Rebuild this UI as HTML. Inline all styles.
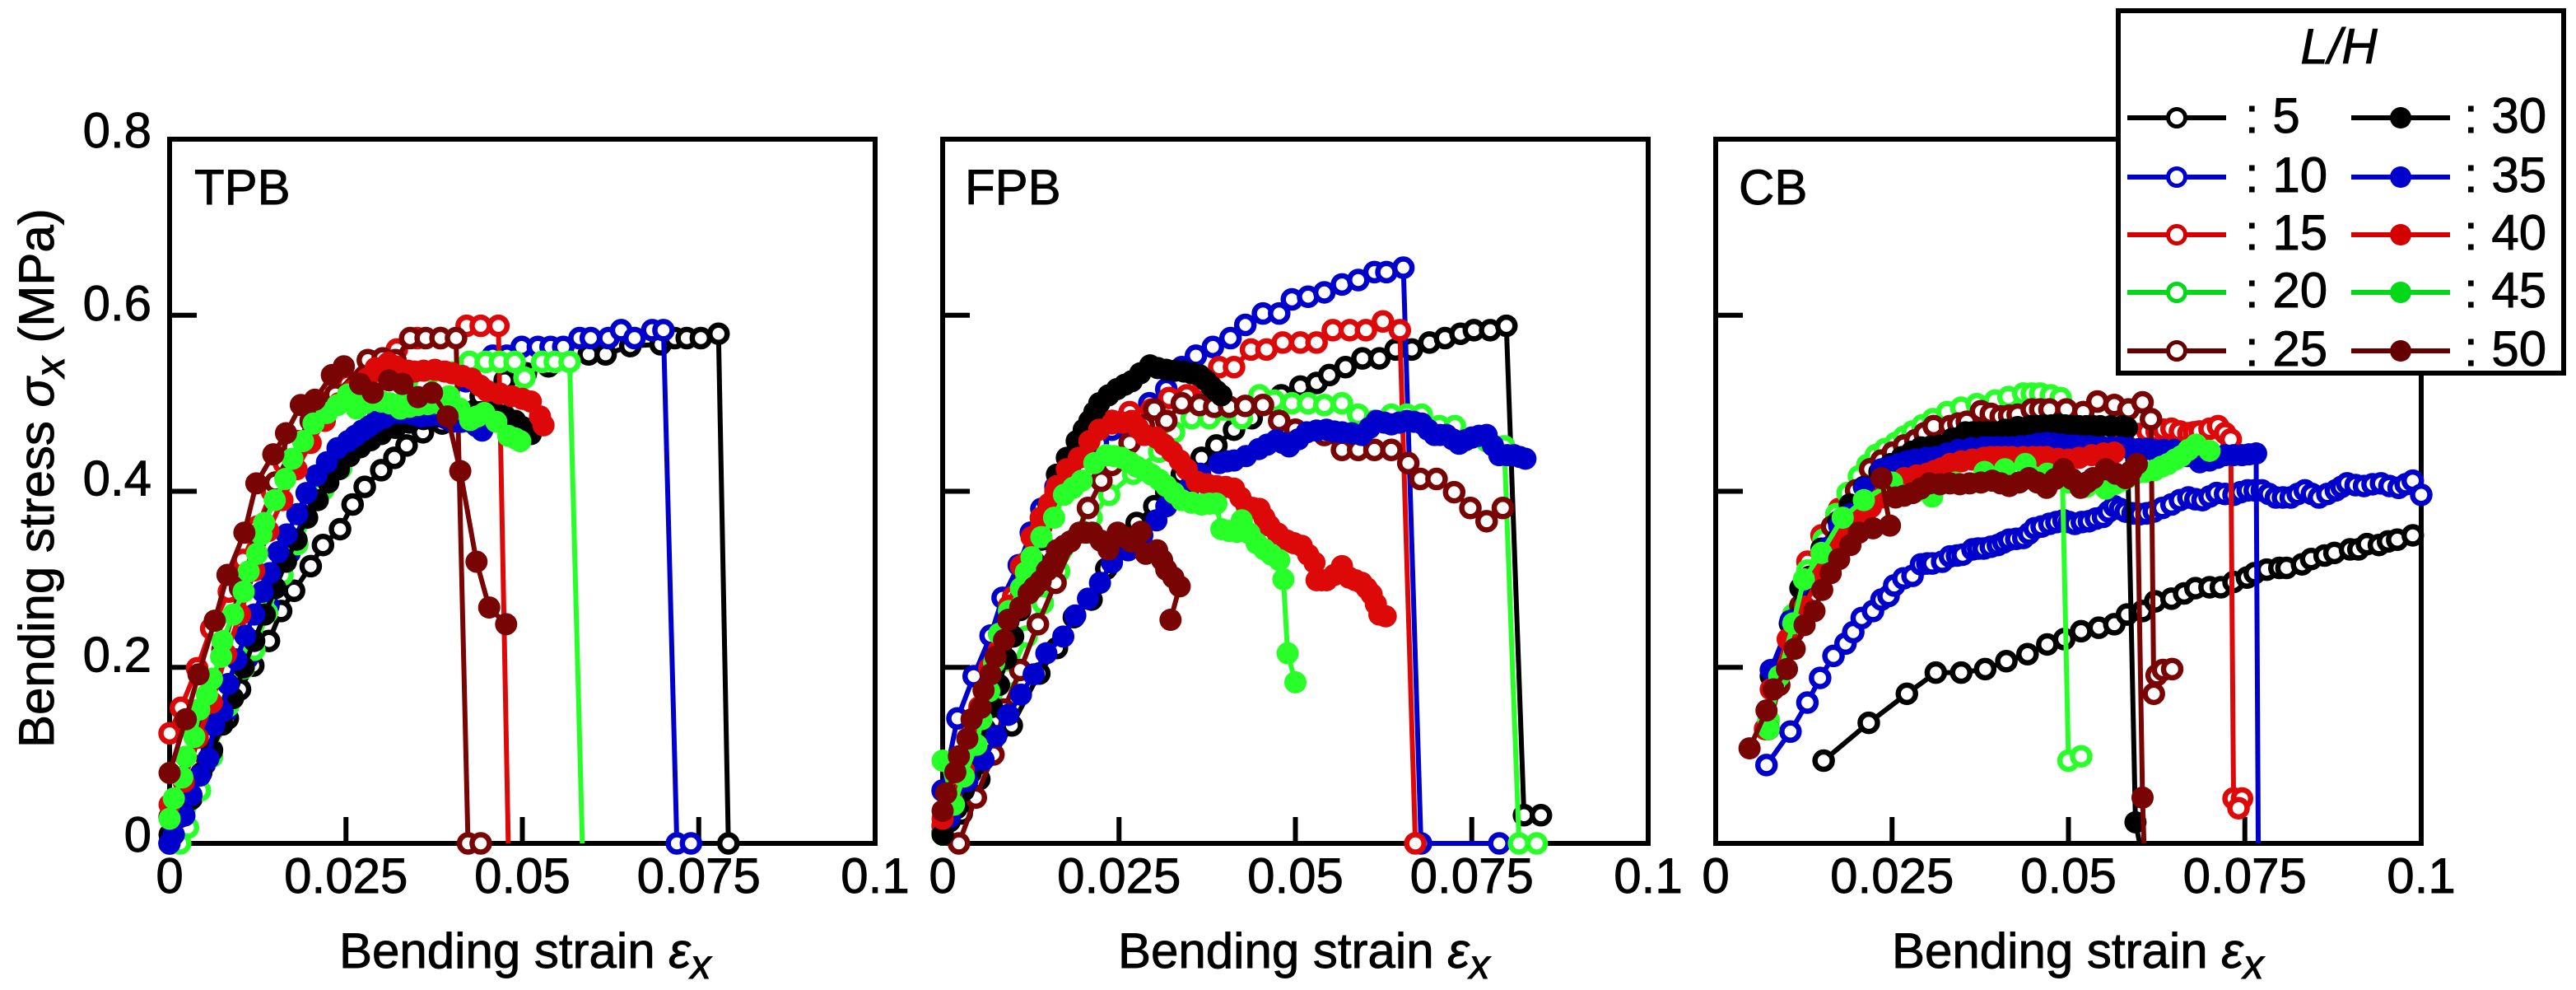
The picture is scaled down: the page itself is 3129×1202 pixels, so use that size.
<!DOCTYPE html>
<html lang="en">
<head>
<meta charset="utf-8">
<title>Bending stress versus bending strain</title>
<style>
html,body{margin:0;padding:0;background:#fff;width:3129px;height:1202px;overflow:hidden}
svg{display:block}
text{font-family:"Liberation Sans",sans-serif;font-size:60px;fill:#000;stroke:#000;stroke-width:.9px}
</style>
</head>
<body>
<svg id="chart" xmlns="http://www.w3.org/2000/svg" width="3129" height="1202" viewBox="0 0 3129 1202"></svg>
<script>
// ---- shared axis data ----
const xTickValues = [0.025, 0.05, 0.075];
const yTickValues = [0.2, 0.4, 0.6];
const xLabelValues = [0, 0.025, 0.05, 0.075, 0.1];
const xLabelTexts = ['0', '0.025', '0.05', '0.075', '0.1'];
const yLabelValues = [0.8, 0.6, 0.4, 0.2, 0];
const yLabelTexts = ['0.8', '0.6', '0.4', '0.2', '0'];
const ratios = [5, 10, 15, 20, 25, 30, 35, 40, 45, 50];

// ---- TPB ----
const tpb5 = [[0,0],[.0031,.051],[.006,.106],[.00825,.142],[.00998,.175],[.01186,.202],[.01408,.23],[.01581,.264],[.01764,.287],[.02,.315],[.02174,.339],[.02416,.357],[.02594,.385],[.02766,.405],[.03,.424],[.03186,.438],[.03359,.452],[.03591,.467],[.03863,.477],[.0411,.4925],[.0441,.508],[.0475,.526],[.0505,.534],[.0537,.542],[.0594,.5555],[.0618,.5555],[.0653,.565],[.0696,.567],[.0716,.574],[.0733,.574],[.0753,.574],[.0778,.579],[.0792,0]];
const tpb10 = [[0,0],[.002,.03],[.005,.09],[.008,.15],[.011,.21],[.014,.27],[.017,.33],[.02,.39],[.024,.44],[.028,.47],[.033,.49],[.038,.5],[.042,.525],[.0458,.554],[.0478,.554],[.0499,.564],[.0522,.564],[.054,.564],[.0558,.564],[.0581,.574],[.0597,.574],[.0622,.574],[.064,.583],[.0659,.574],[.0684,.583],[.07,.583],[.0719,0],[.0739,0]];
const tpb15 = [[0,.125],[.0016,.154],[.0039,.199],[.0059,.244],[.0084,.286],[.0104,.322],[.0125,.36],[.0145,.4],[.0162,.432],[.0182,.457],[.0203,.477],[.0228,.503],[.0252,.522],[.0285,.548],[.0322,.561],[.0351,.574],[.0384,.574],[.0421,.588],[.0441,.588],[.0466,.588]];
const tpb15Drop = [[.048,0]];
const tpb20 = [[.0015,.0],[.0026,.018],[.0043,.06],[.006,.0985],[.0083,.156],[.0105,.199],[.012,.22],[.0138,.262],[.016,.305],[.0181,.34],[.0218,.402],[.0243,.426],[.0278,.469],[.0297,.49],[.033,.5],[.036,.52],[.04,.535],[.0425,.547],[.0448,.547],[.0468,.547],[.0489,.547],[.0503,.529],[.0528,.547],[.0546,.547],[.0567,.547]];
const tpb20Drop = [[.0585,0]];
const tpb25 = [[.0,.03],[.003,.09],[.005,.15],[.0075,.22],[.01,.29],[.0125,.35],[.015,.41],[.0175,.45],[.02,.48],[.0235,.51],[.0281,.549],[.0302,.551],[.032,.549],[.0341,.574],[.0363,.574],[.0384,.574],[.0406,.574],[.0423,0],[.0441,0]];
const tpb30 = [[0,.01],[.0015,.03],[.003,.05],[.0045,.08],[.006,.105],[.0075,.135],[.009,.165],[.0105,.2],[.012,.23],[.0135,.26],[.015,.29],[.0165,.32],[.018,.345],[.0195,.37],[.021,.39],[.0225,.41],[.024,.425],[.0255,.44],[.027,.45],[.0285,.458],[.03,.465],[.032,.472],[.034,.478],[.036,.482],[.038,.485],[.04,.488],[.042,.49],[.044,.49],[.046,.49],[.0475,.486],[.049,.48],[.05,.473],[.0512,.465]];
const tpb35 = [[0,0],[.0006,.01],[.0021,.0315],[.0031,.055],[.0043,.077],[.0055,.0965],[.0063,.134],[.0075,.15],[.0083,.181],[.0095,.209],[.0107,.236],[.012,.26],[.0132,.286],[.0142,.307],[.0154,.331],[.0166,.351],[.0181,.374],[.0194,.398],[.0208,.418],[.0223,.433],[.0238,.449],[.0253,.457],[.0263,.463],[.0273,.469],[.0283,.474],[.0292,.479],[.0305,.484],[.0317,.489],[.0327,.489],[.0337,.489],[.0347,.487],[.0357,.485],[.0369,.486],[.0381,.487],[.0391,.483],[.0401,.479],[.0414,.479],[.0426,.479],[.0435,.474],[.0443,.469]];
const tpb40 = [[0,.044],[.002,.07],[.004,.12],[.006,.16],[.008,.215],[.01,.26],[.012,.31],[.014,.355],[.016,.39],[.018,.425],[.02,.455],[.022,.48],[.024,.5],[.026,.515],[.028,.528],[.0292,.54],[.031,.546],[.032,.542],[.0328,.538],[.0338,.537],[.0347,.536],[.036,.537],[.0376,.538],[.039,.536],[.0401,.534],[.0415,.531],[.0428,.528],[.044,.52],[.045,.514],[.0468,.511],[.0485,.508],[.05,.505],[.0512,.502],[.0525,.485],[.053,.475]];
const tpb45 = [[0,.028],[.0006,.051],[.0018,.075],[.0023,.0985],[.0035,.121],[.0042,.152],[.0053,.169],[.006,.187],[.0073,.212],[.0075,.23],[.009,.26],[.0105,.286],[.0112,.309],[.0124,.329],[.013,.351],[.0134,.364],[.0149,.39],[.0164,.414],[.0174,.437],[.0189,.457],[.0204,.477],[.0223,.489],[.0238,.498],[.0253,.51],[.0265,.494],[.0277,.5],[.0288,.504],[.03,.502],[.0312,.5],[.0327,.494],[.034,.496],[.0352,.498],[.0366,.499],[.0381,.5],[.0396,.508],[.0411,.494],[.0426,.481],[.0436,.485],[.0446,.489],[.0463,.479],[.048,.463],[.049,.46],[.0497,.457]];
const tpb50 = [[0,.08],[.0023,.141],[.0041,.192],[.0064,.253],[.0082,.305],[.0106,.353],[.0123,.409],[.0147,.442],[.0165,.466],[.0186,.498],[.0206,.504],[.023,.532],[.0247,.542],[.027,.522],[.0288,.512],[.0311,.526],[.033,.522],[.0352,.507],[.0372,.512],[.0394,.485],[.0412,.423],[.0435,.32],[.0453,.268],[.0477,.249]];

// ---- FPB ----
const fpb5 = [[0,.012],[.0027,.034],[.0052,.073],[.0098,.134],[.0137,.193],[.0162,.222],[.0186,.257],[.0211,.277],[.0232,.312],[.0261,.335],[.0275,.364],[.03,.383],[.0317,.399],[.0339,.419],[.0367,.438],[.0388,.452],[.0413,.47],[.0438,.483],[.048,.509],[.0507,.519],[.053,.523],[.0548,.532],[.0571,.541],[.0595,.551],[.0619,.551],[.0642,.561],[.0665,.561],[.069,.569],[.0712,.574],[.0734,.579],[.0753,.583],[.0776,.583],[.0799,.588],[.0824,.032],[.0848,.032]];
const fpb10 = [[.0,.06],[.0021,.142],[.0044,.19],[.0068,.236],[.0085,.279],[.0108,.316],[.0125,.353],[.014,.38],[.016,.405],[.018,.425],[.02,.44],[.022,.455],[.024,.47],[.0261,.483],[.0293,.5],[.0317,.516],[.0339,.541],[.0359,.554],[.0383,.564],[.0408,.574],[.0429,.589],[.0454,.602],[.0477,.602],[.0495,.618],[.0518,.621],[.0541,.626],[.0566,.635],[.0589,.64],[.0612,.649],[.0629,.649],[.0653,.654],[.0678,0],[.0789,0]];
const fpb15 = [[0,.02],[.002,.06],[.004,.11],[.006,.16],[.008,.22],[.01,.28],[.012,.32],[.014,.36],[.016,.4],[.018,.43],[.02,.45],[.022,.47],[.024,.48],[.0265,.49],[.0296,.493],[.0321,.506],[.0346,.509],[.037,.52],[.0392,.541],[.0413,.541],[.0437,.561],[.0459,.561],[.0482,.569],[.0507,.569],[.053,.569],[.0553,.583],[.0577,.583],[.06,.583],[.0624,.593],[.0648,.583],[.067,0]];
const fpb20 = [[.0,.01],[.003,.06],[.006,.13],[.0094,.189],[.0119,.235],[.0142,.273],[.0165,.309],[.0211,.37],[.0236,.396],[.027,.42],[.0307,.445],[.0328,.467],[.0353,.483],[.0378,.483],[.0424,.483],[.0449,.509],[.047,.503],[.0495,.5],[.0518,.5],[.0541,.498],[.0566,.5],[.0589,.487],[.0612,.48],[.0636,.487],[.0658,.487],[.0679,.487],[.0704,.474],[.0726,.474],[.075,.461],[.0771,.457],[.0796,.451],[.0817,0],[.0842,0]];
const fpb25 = [[.0023,0],[.0047,.052],[.0072,.101],[.0087,.152],[.011,.197],[.0135,.249],[.016,.296],[.0206,.381],[.0225,.412],[.024,.43],[.0265,.455],[.0285,.475],[.03,.493],[.0317,.48],[.0339,.5],[.0364,.498],[.0385,.496],[.0406,.496],[.0429,.497],[.0454,.498],[.0477,.48],[.05,.47],[.0541,.464],[.0566,.447],[.0589,.447],[.0612,.447],[.0636,.447],[.066,.432],[.0677,.414],[.07,.414],[.0725,.399],[.0748,.381],[.0771,.366],[.0794,.381]];
const fpb30 = [[0,.01],[.001,.025],[.002,.04],[.003,.06],[.004,.08],[.005,.105],[.006,.13],[.007,.155],[.008,.18],[.009,.21],[.01,.235],[.011,.265],[.012,.29],[.013,.32],[.014,.345],[.015,.385],[.0162,.419],[.0176,.438],[.019,.457],[.02,.47],[.0208,.48],[.0215,.49],[.0222,.5],[.0235,.509],[.0247,.516],[.0258,.521],[.0268,.525],[.028,.534],[.0294,.543],[.0305,.54],[.0317,.538],[.033,.537],[.0342,.536],[.0353,.534],[.0364,.532],[.0373,.526],[.0381,.519],[.0388,.514],[.0395,.509]];
const fpb35 = [[.001,.03],[.0035,.071],[.0058,.095],[.0076,.122],[.0093,.146],[.0111,.169],[.0129,.192],[.0147,.216],[.0171,.235],[.0188,.259],[.0206,.278],[.0223,.296],[.024,.319],[.0263,.333],[.0283,.35],[.0303,.367],[.0317,.383],[.0335,.395],[.035,.405],[.0365,.42],[.0392,.432],[.0403,.434],[.0413,.435],[.043,.44],[.0448,.448],[.046,.453],[.0473,.458],[.0482,.455],[.0491,.451],[.0504,.459],[.0516,.467],[.053,.469],[.0544,.47],[.0555,.468],[.0566,.467],[.058,.466],[.0594,.464],[.0605,.472],[.0615,.48],[.0626,.478],[.0636,.476],[.0647,.478],[.0658,.48],[.0668,.479],[.0679,.477],[.0688,.47],[.0697,.464],[.0705,.464],[.0714,.464],[.0723,.459],[.0732,.454],[.0741,.458],[.075,.461],[.076,.463],[.0771,.464],[.078,.452],[.0789,.441],[.08,.441],[.081,.441],[.0818,.439],[.0826,.437]];
const fpb40 = [[0,.028],[.0013,.05],[.003,.083],[.0041,.115],[.0052,.155],[.0066,.199],[.008,.238],[.0094,.27],[.0111,.315],[.0126,.348],[.0139,.37],[.0151,.386],[.0162,.406],[.0176,.425],[.0193,.438],[.0208,.457],[.0222,.47],[.024,.477],[.0255,.478],[.0268,.48],[.0277,.472],[.0286,.464],[.0303,.461],[.0314,.453],[.0325,.445],[.0336,.435],[.0346,.425],[.036,.411],[.0375,.408],[.0388,.406],[.0401,.405],[.0413,.403],[.0422,.393],[.0431,.383],[.044,.381],[.0449,.38],[.0456,.37],[.0463,.361],[.0475,.352],[.0488,.344],[.0498,.341],[.0509,.338],[.0518,.328],[.0527,.319],[.053,.299],[.0537,.299],[.0544,.299],[.0555,.305],[.0566,.315],[.0576,.302],[.0585,.299],[.0594,.296],[.0601,.29],[.0608,.283],[.0614,.272],[.0619,.26],[.0628,.258]];
const fpb45 = [[0,.094],[.0016,.044],[.003,.076],[.0048,.112],[.0055,.141],[.0066,.173],[.0073,.205],[.008,.238],[.0094,.264],[.0111,.29],[.0118,.308],[.0126,.325],[.014,.348],[.0158,.37],[.0172,.396],[.0185,.404],[.0197,.412],[.0215,.432],[.0232,.441],[.0243,.44],[.0254,.438],[.0265,.433],[.0275,.428],[.0286,.424],[.0296,.419],[.0307,.413],[.0317,.406],[.0328,.398],[.0339,.39],[.0353,.387],[.0367,.385],[.0378,.386],[.0388,.386],[.0395,.357],[.0406,.355],[.0417,.354],[.0424,.367],[.0435,.352],[.0445,.341],[.0456,.334],[.0466,.328],[.0477,.322],[.0483,.3],[.0489,.216],[.05,.183]];
const fpb50 = [[0,.037],[.0005,.057],[.0018,.081],[.0023,.099],[.0035,.119],[.0041,.141],[.0054,.154],[.0058,.174],[.0068,.192],[.0075,.212],[.0087,.231],[.0093,.254],[.011,.268],[.0122,.284],[.013,.291],[.0139,.298],[.0148,.31],[.0158,.321],[.0162,.333],[.0172,.338],[.0181,.343],[.0194,.353],[.0203,.353],[.0212,.353],[.0224,.344],[.0235,.334],[.0248,.353],[.0258,.348],[.0267,.343],[.0281,.354],[.0288,.329],[.0304,.333],[.0311,.322],[.0317,.311],[.0327,.302],[.0336,.292],[.0323,.254]];

// ---- CB ----
const cb5 = [[.0153,.094],[.0217,.137],[.0271,.17],[.0312,.194],[.0348,.194],[.0382,.198],[.0412,.207],[.0442,.215],[.047,.226],[.0494,.232],[.0518,.241],[.0543,.245],[.0565,.249],[.0583,.26],[.0605,.264],[.0623,.275],[.0646,.278],[.0664,.284],[.068,.29],[.07,.291],[.0716,.291],[.0734,.297],[.0753,.302],[.0764,.307],[.0781,.311],[.0799,.313],[.0809,.313],[.0831,.317],[.0844,.323],[.0863,.327],[.0877,.33],[.0899,.334],[.0911,.334],[.0923,.34],[.094,.339],[.0953,.343],[.0966,.345],[.0988,.35]];
const cb10 = [[.0072,.089],[.0106,.127],[.013,.16],[.0148,.188],[.0167,.213],[.0184,.227],[.0195,.24],[.0207,.256],[.0223,.264],[.0235,.277],[.0245,.281],[.0253,.293],[.0266,.301],[.0279,.304],[.0291,.317],[.03,.318],[.0307,.318],[.0321,.32],[.0332,.326],[.0342,.327],[.035,.328],[.0364,.334],[.0372,.335],[.038,.335],[.039,.337],[.04,.339],[.0408,.342],[.0416,.345],[.0426,.346],[.0436,.347],[.0444,.352],[.0452,.358],[.0462,.36],[.0473,.363],[.0483,.365],[.0493,.367],[.0501,.365],[.0509,.363],[.0519,.365],[.0529,.366],[.0539,.369],[.0549,.371],[.0557,.377],[.0565,.383],[.0573,.38],[.0581,.377],[.0591,.375],[.0601,.374],[.0611,.375],[.0621,.377],[.0633,.381],[.0646,.385],[.0658,.39],[.067,.393],[.068,.391],[.069,.39],[.07,.394],[.071,.398],[.0722,.397],[.0734,.396],[.0744,.399],[.0754,.401],[.0764,.401],[.0774,.401],[.0784,.397],[.0794,.393],[.0804,.393],[.0815,.393],[.0825,.397],[.0835,.401],[.0845,.397],[.0855,.393],[.0867,.397],[.0879,.401],[.0887,.405],[.0895,.409],[.0907,.407],[.0919,.406],[.0931,.408],[.0943,.409],[.0955,.406],[.0968,.404],[.0978,.408],[.0988,.412],[.1,.396]];
const cb15 = [[.007,.13],[.0085,.19],[.011,.25],[.013,.32],[.015,.35],[.0175,.38],[.02,.4],[.023,.42],[.026,.44],[.03,.45],[.035,.46],[.04,.46],[.045,.465],[.05,.46],[.055,.465],[.0575,.47],[.06,.465],[.0612,.468],[.0625,.468],[.0635,.47],[.0646,.471],[.0658,.468],[.067,.466],[.0678,.467],[.0686,.468],[.07,.471],[.0712,.474],[.0722,.466],[.073,.459],[.0734,.051],[.0746,.051],[.0741,.04]];
const cb20 = [[.0075,.14],[.009,.2],[.011,.26],[.013,.31],[.0153,.345],[.0171,.374],[.0187,.398],[.0203,.417],[.0215,.43],[.0227,.441],[.024,.448],[.0255,.455],[.0267,.462],[.0279,.468],[.0293,.475],[.0308,.482],[.0328,.49],[.0348,.495],[.037,.499],[.0396,.503],[.0415,.507],[.0436,.511],[.0448,.511],[.046,.511],[.0475,.509],[.0489,.506],[.05,.094],[.0518,.099]];
const cb25 = [[.0075,.13],[.009,.18],[.011,.24],[.012,.27],[.0134,.301],[.0165,.36],[.0199,.401],[.0219,.425],[.0235,.435],[.0251,.444],[.0267,.452],[.0283,.458],[.0296,.466],[.0309,.474],[.0332,.474],[.0344,.477],[.0356,.479],[.0376,.491],[.039,.488],[.0404,.485],[.0416,.486],[.0428,.487],[.0448,.493],[.046,.493],[.0473,.493],[.0497,.493],[.0521,.49],[.0541,.502],[.0565,.498],[.0585,.493],[.0605,.501],[.0617,.482],[.0621,.17],[.0625,.191],[.0634,.197],[.0647,.198]];
const cb30 = [[.0078,.19],[.0105,.25],[.012,.29],[.0133,.303],[.015,.335],[.0174,.366],[.019,.385],[.021,.405],[.0232,.422],[.0248,.431],[.0264,.439],[.0278,.445],[.0291,.45],[.0305,.451],[.0318,.452],[.0336,.46],[.0354,.467],[.0364,.467],[.0374,.467],[.0384,.467],[.0393,.467],[.041,.47],[.0428,.473],[.0445,.474],[.0455,.474],[.0465,.475],[.0476,.475],[.0486,.476],[.0495,.475],[.0505,.474],[.0515,.474],[.0525,.474],[.0535,.474],[.0545,.474],[.056,.474],[.0576,.474],[.0583,.472],[.0595,.024]];
const cb30Drop = [[.0601,0]];
const cb35 = [[.0078,.197],[.0106,.253],[.0134,.299],[.0159,.336],[.0175,.361],[.0191,.374],[.0211,.404],[.0235,.425],[.0247,.428],[.0259,.431],[.0271,.434],[.0283,.436],[.0298,.438],[.0312,.439],[.0328,.443],[.0344,.447],[.0362,.449],[.038,.45],[.039,.45],[.04,.45],[.041,.45],[.042,.45],[.0432,.451],[.0445,.452],[.0457,.454],[.0469,.455],[.048,.454],[.049,.453],[.05,.452],[.0509,.452],[.052,.451],[.053,.451],[.054,.45],[.0549,.45],[.0561,.45],[.0573,.45],[.0586,.449],[.06,.448],[.0611,.448],[.0621,.447],[.0635,.447],[.065,.447],[.0668,.44],[.0686,.433],[.07,.435],[.0711,.438],[.0722,.441],[.0734,.441],[.0746,.441],[.0756,.442],[.0766,.443]];
const cb35Drop = [[.0769,0]];
const cb40 = [[.0078,.175],[.0102,.232],[.0126,.269],[.0151,.312],[.0175,.345],[.019,.358],[.0203,.371],[.022,.382],[.0235,.393],[.025,.404],[.0267,.415],[.0285,.418],[.03,.42],[.031,.423],[.032,.426],[.0332,.431],[.0348,.434],[.0364,.436],[.038,.438],[.039,.439],[.04,.439],[.041,.439],[.042,.439],[.0436,.439],[.045,.439],[.046,.439],[.0469,.439],[.0485,.437],[.05,.436],[.0515,.438],[.0533,.441],[.055,.443],[.0565,.444]];
const cb45 = [[.0075,.13],[.009,.19],[.011,.25],[.0125,.3],[.015,.33],[.018,.37],[.021,.39],[.025,.41],[.0285,.4],[.0307,.394],[.034,.41],[.0381,.422],[.041,.425],[.0439,.431],[.047,.42],[.05,.41],[.0525,.405],[.0553,.403],[.0565,.408],[.0575,.412],[.0585,.416],[.0595,.42],[.0608,.422],[.0622,.424],[.0632,.428],[.0641,.431],[.0651,.436],[.066,.44],[.067,.447],[.0681,.453],[.07,.446]];
const cb50 = [[.0048,.108],[.0072,.151],[.0082,.175],[.0101,.198],[.0112,.221],[.0126,.248],[.014,.264],[.0151,.288],[.0163,.307],[.0175,.323],[.0191,.339],[.0203,.353],[.0223,.358],[.0247,.361],[.0235,.415],[.0255,.393],[.0267,.395],[.0279,.398],[.029,.403],[.0303,.409],[.0318,.408],[.0332,.409],[.0346,.408],[.036,.409],[.0376,.41],[.0392,.412],[.0404,.409],[.0416,.406],[.043,.41],[.0444,.415],[.0456,.41],[.0469,.404],[.0481,.414],[.0493,.425],[.0505,.414],[.0517,.404],[.0526,.41],[.0535,.415],[.0553,.425],[.0567,.42],[.0581,.415],[.0589,.423],[.0597,.431],[.0605,.052]];
const cb50Drop = [[.0607,0]];

const colors = ['#000000', '#0000cc', '#dd0808', '#28ff28', '#780404', '#000000', '#0000cc', '#dd0808', '#28ff28', '#780404'];
const legendColors = ['#000000', '#0000cc', '#d40000', '#00d818', '#660000', '#000000', '#0000cc', '#d40000', '#00d818', '#660000'];

const NS = 'http://www.w3.org/2000/svg';
const svg = document.getElementById('chart');
const TOP = 169, BOTTOM = 1024, WIDTH = 857;

function make(tag, attrs, parent) {
  const el = document.createElementNS(NS, tag);
  for (const k in attrs) el.setAttribute(k, attrs[k]);
  (parent || svg).appendChild(el);
  return el;
}

function drawSeries(group, points, drop, index, sx, sy, panelName) {
  const all = points.concat(drop || []);
  const color = colors[index];
  const g = make('g', {}, group);
  
  
  const line = make('polyline', {
    points: all.map(p => sx(p[0]) + ',' + sy(p[1])).join(' '),
    fill: 'none', stroke: color, 'stroke-width': 6, 'stroke-linejoin': 'round'
  }, g);
  
  
  const filled = index >= 5;
  points.forEach(p => {
    const c = make('circle', {
      cx: sx(p[0]), cy: sy(p[1]), r: filled ? 13.5 : 10.5,
      fill: filled ? color : '#fff', stroke: filled ? 'none' : color, 'stroke-width': filled ? 0 : 6.5
    }, g);
    
    
  });
}

function drawPanel(cfg) {
  const left = cfg.left;
  const sx = v => left + v / 0.1 * WIDTH;
  const sy = v => BOTTOM - v / 0.8 * (BOTTOM - TOP);
  const g = make('g', {});
  
  

  const frame = make('rect', { x: left, y: TOP, width: WIDTH, height: BOTTOM - TOP, fill: '#fff', stroke: '#000', 'stroke-width': 6 }, g);
  
  

  xTickValues.forEach(v => {
    const t = make('line', { x1: sx(v), x2: sx(v), y1: BOTTOM, y2: BOTTOM - 32, stroke: '#000', 'stroke-width': 6 }, g);
    
    
  });
  yTickValues.forEach(v => {
    const t = make('line', { x1: left, x2: left + 33, y1: sy(v), y2: sy(v), stroke: '#000', 'stroke-width': 6 }, g);
    
    
  });
  xLabelValues.forEach((v, i) => {
    const t = make('text', { x: sx(v), y: 1084, 'text-anchor': 'middle' }, g);
    t.textContent = xLabelTexts[i];
    
    
  });
  if (cfg.showY) {
    const offsets = [10, 6, 5, 5, 10];
    yLabelValues.forEach((v, i) => {
      const t = make('text', { x: left - 22, y: sy(v) + offsets[i], 'text-anchor': 'end' }, g);
      t.textContent = yLabelTexts[i];
      
      
    });
  }
  const title = make('text', { x: left + cfg.titleDx, y: 248 }, g);
  title.textContent = cfg.name;
  
  

  const xt = make('text', { x: left + cfg.xTitleDx, y: 1175 }, g);
  
  
  xt.innerHTML = 'Bending strain <tspan font-style="italic">ε</tspan><tspan font-style="italic" font-size="50" dy="13">x</tspan>';

  cfg.series.forEach((s, i) => drawSeries(g, s[0], s[1], i, sx, sy, cfg.name));
}

drawPanel({ name: 'TPB', left: 206, showY: true, titleDx: 30, xTitleDx: 206, series: [
  [tpb5], [tpb10], [tpb15, tpb15Drop], [tpb20, tpb20Drop], [tpb25], [tpb30], [tpb35], [tpb40], [tpb45], [tpb50]
]});
drawPanel({ name: 'FPB', left: 1145, showY: false, titleDx: 27, xTitleDx: 213, series: [
  [fpb5], [fpb10], [fpb15], [fpb20], [fpb25], [fpb30], [fpb35], [fpb40], [fpb45], [fpb50]
]});
drawPanel({ name: 'CB', left: 2084, showY: false, titleDx: 28, xTitleDx: 214, series: [
  [cb5], [cb10], [cb15], [cb20], [cb25], [cb30, cb30Drop], [cb35, cb35Drop], [cb40], [cb45], [cb50, cb50Drop]
]});

// y axis title
const yTitle = make('text', { transform: 'translate(65 908) rotate(-90)' });


yTitle.innerHTML = 'Bending stress <tspan font-style="italic">σ</tspan><tspan font-style="italic" font-size="50" dy="13">x</tspan><tspan dy="-13"> (MPa)</tspan>';

// legend
const legend = make('g', {});


const legendBox = make('rect', { x: 2573, y: 13, width: 541, height: 440, fill: '#fff', stroke: '#000', 'stroke-width': 6 }, legend);


const legendTitle = make('text', { x: 2841, y: 77, 'text-anchor': 'middle', 'font-style': 'italic' }, legend);
legendTitle.textContent = 'L/H';


const rowY = [143, 215, 285, 355, 426];
ratios.forEach((r, i) => {
  const col = i < 5 ? 0 : 1;
  const y = rowY[i % 5];
  const lx = col ? 2856 : 2584;
  const tx = col ? 2993 : 2727;
  const entry = make('g', {}, legend);
  
  
  make('line', { x1: lx, x2: lx + 120, y1: y, y2: y, stroke: legendColors[i], 'stroke-width': 6 }, entry);
  if (col) {
    make('circle', { cx: lx + 60, cy: y, r: 13, fill: legendColors[i] }, entry);
  } else {
    make('circle', { cx: lx + 60, cy: y, r: 10.5, fill: '#fff', stroke: legendColors[i], 'stroke-width': 5 }, entry);
  }
  const t = make('text', { x: tx, y: y + 18 }, entry);
  t.setAttribute('xml:space', 'preserve');
  t.textContent = ': ' + r;
});
</script>
</body>
</html>
